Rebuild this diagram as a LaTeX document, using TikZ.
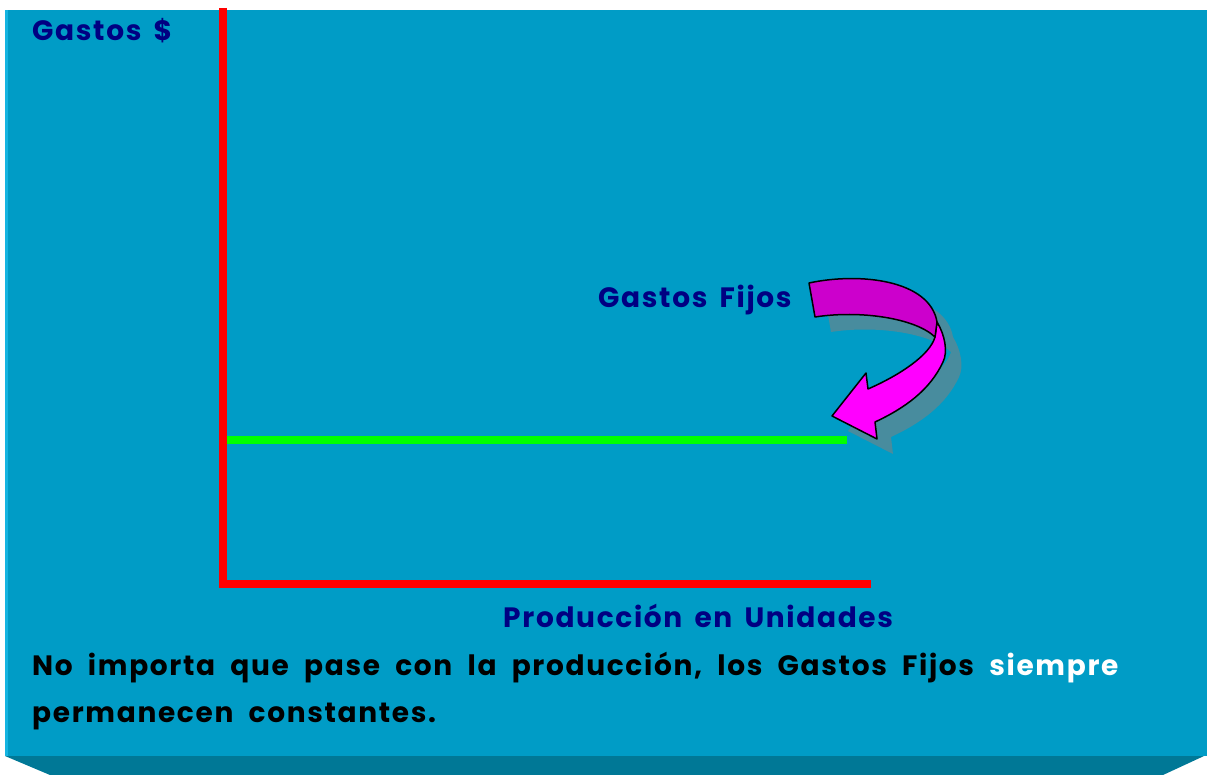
\documentclass[tikz,border=0pt]{standalone}
\usepackage{fontspec}
\setmainfont{Poppins}[LetterSpace=6,WordSpace=1.6]
\newfontfamily\notefont{Poppins}[LetterSpace=6,WordSpace=2]
\usepackage{xcolor}
\usepackage{tikz}
\usetikzlibrary{positioning}
\definecolor{panel}{RGB}{0,156,198}
\definecolor{panelside}{RGB}{0,120,150}
\definecolor{panelleft}{RGB}{20,180,225}
\definecolor{navy}{RGB}{0,0,130}
\definecolor{foldtop}{RGB}{204,0,204}
\definecolor{foldlow}{RGB}{255,0,255}
\definecolor{arrowshadow}{RGB}{72,140,158}
\tikzset{lbl/.style={font=\bfseries\fontsize{28}{34}\selectfont,inner sep=0pt,anchor=base west,text=navy},
         note/.style={lbl,text=black,font=\notefont\bfseries\fontsize{28}{34}\selectfont},
         axis/.style={draw=red,line width=8pt},
         fixline/.style={draw=green,line width=8pt}}

\begin{document}
\begin{tikzpicture}[x=1pt,y=-1pt]
        \useasboundingbox (0,0) rectangle (1207,775);
        % panel
        \fill[panel] (5,10) rectangle (1207,756);
        \fill[panelleft] (5,10) rectangle (7.5,756);
        \fill[panelside] (5,756) -- (1204,756) -- (1163,775) -- (50,775) -- cycle;

        \coordinate (o) at (223,584);
        \coordinate (ytop) at (223,8);
        \coordinate (xend) at (871,584);
        \coordinate (fa) at (227,440);
        \coordinate (fb) at (847,440);

        \draw [axis] (ytop) -- (o);
        \draw [axis] ([xshift=-4pt]o) -- (xend);
        \draw [fixline] (fa) -- (fb);

        % curved arrow
        \fill[arrowshadow,shift={(16,15)}] (809,283) .. controls (860,272) and (930,280) .. (937,322)
            .. controls (945,335) and (948,352) .. (943,362) .. controls (930,390) and (905,408) .. (875,422)
            -- (877,439) -- (832,416) -- (866,373) -- (868,389)
            .. controls (900,375) and (930,355) .. (935,337) .. controls (915,318) and (860,310) .. (815,317) -- cycle;
        \filldraw[fill=foldlow,draw=black,line width=1.5pt,line join=round] (937,322)
            .. controls (945,335) and (948,352) .. (943,362) .. controls (930,390) and (905,408) .. (875,422)
            -- (877,439) -- (832,416) -- (866,373) -- (868,389)
            .. controls (900,375) and (930,355) .. (935,337) -- cycle;
        \filldraw[fill=foldtop,draw=black,line width=1.5pt,line join=round] (809,283)
            .. controls (860,272) and (930,280) .. (937,322) -- (935,337)
            .. controls (915,318) and (860,310) .. (815,317) -- cycle;

        \node[lbl] (gastos) at (32,41) {Gastos \$};
        \node[lbl] (fijos) at (598,308) {Gastos Fijos};
        \node[lbl] (prod) at (503,627) {Producción en Unidades};
        \node[note] (linea1) at (32,675) {No importa que pase con la producción, los Gastos Fijos \textcolor{white}{siempre}};
        \node[note] (linea2) at (32,722) {permanecen constantes.};
    \end{tikzpicture}
\end{document}
